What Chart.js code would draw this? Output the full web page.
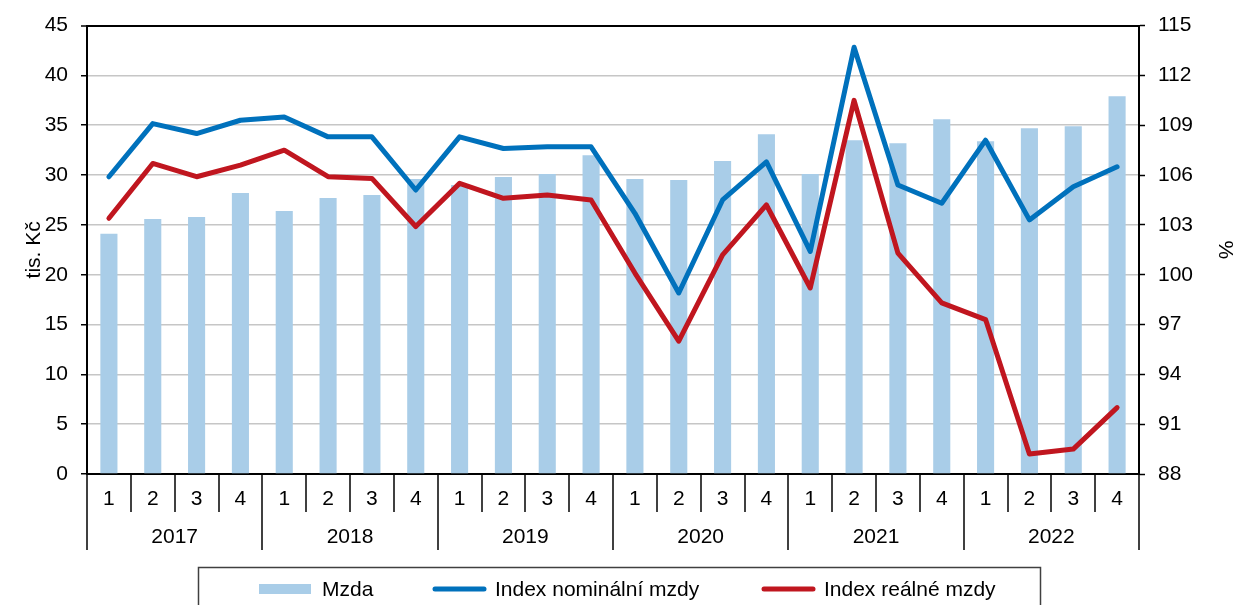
<!DOCTYPE html>
<html>
<head>
<meta charset="utf-8">
<script src="https://cdn.jsdelivr.net/npm/chart.js@4.4.1/dist/chart.umd.min.js"></script>
<style>
  html, body { margin: 0; padding: 0; background: #fff; }
  #obal { width: 1237px; height: 605px; }
</style>
</head>
<body>
<div id="obal"><canvas id="graf" width="1237" height="605"></canvas></div>
<script>
const roky = ["2017", "2018", "2019", "2020", "2021", "2022"];
const ctvrtleti = ["1", "2", "3", "4"];

// prumerna mzda v tis. Kc
const mzda = [24.1, 25.6, 25.8, 28.2, 26.4, 27.7, 28.0, 29.6,
              29.0, 29.8, 30.1, 32.0, 29.6, 29.5, 31.4, 34.1,
              30.1, 33.5, 33.2, 35.6, 33.4, 34.7, 34.9, 37.9];
// indexy v %
const indexNominalni = [105.9, 109.1, 108.5, 109.3, 109.5, 108.3, 108.3, 105.1,
                        108.3, 107.6, 107.7, 107.7, 103.7, 98.9, 104.5, 106.8,
                        101.4, 113.7, 105.4, 104.3, 108.1, 103.3, 105.3, 106.5];
const indexRealne = [103.4, 106.7, 105.9, 106.6, 107.5, 105.9, 105.8, 102.9,
                     105.5, 104.6, 104.8, 104.5, 100.1, 96.0, 101.2, 104.2,
                     99.2, 110.5, 101.3, 98.3, 97.3, 89.2, 89.5, 92.0];

const popisky = [];
roky.forEach(r => ctvrtleti.forEach(q => popisky.push(r + "-" + q)));

const PISMO = '"Liberation Sans", Arial, sans-serif';
const VELIKOST = 21;
Chart.defaults.font.family = PISMO;
Chart.defaults.font.size = VELIKOST;
Chart.defaults.color = "#000";

// dvouradkova osa x (ctvrtleti + roky) a legenda v ramecku
const osaRoky = {
  id: "osaRoky",
  afterDraw(chart) {
    const ctx = chart.ctx;
    const x = chart.scales.x;
    const dole = chart.chartArea.bottom;
    const krok = x.getPixelForValue(1) - x.getPixelForValue(0);

    ctx.save();
    ctx.strokeStyle = "#000";
    ctx.lineWidth = 1.5;
    for (let i = 0; i <= popisky.length; i++) {
      const bx = Math.round(x.getPixelForValue(0) - krok / 2 + i * krok);
      const delka = i % ctvrtleti.length === 0 ? 76 : 38;
      ctx.beginPath();
      ctx.moveTo(bx, dole);
      ctx.lineTo(bx, dole + delka);
      ctx.stroke();
    }

    ctx.fillStyle = "#000";
    ctx.font = VELIKOST + "px " + PISMO;
    ctx.textAlign = "center";
    ctx.textBaseline = "middle";
    popisky.forEach((p, i) => {
      ctx.fillText(ctvrtleti[i % ctvrtleti.length], x.getPixelForValue(i), dole + 25);
    });
    roky.forEach((r, j) => {
      const a = x.getPixelForValue(j * 4);
      const b = x.getPixelForValue(j * 4 + 3);
      ctx.fillText(r, (a + b) / 2, dole + 63);
    });

    // legenda
    ctx.strokeStyle = "#404040";
    ctx.lineWidth = 1.5;
    ctx.strokeRect(198.5, 567.5, 842, 60);

    const starty = [259, 432, 761];
    const stredY = 589;
    ctx.textAlign = "left";
    chart.data.datasets.forEach((ds, i) => {
      const sx = starty[i];
      if (ds.type === "bar") {
        ctx.fillStyle = ds.backgroundColor;
        ctx.fillRect(sx, stredY - 5, 52, 10);
      } else {
        ctx.strokeStyle = ds.borderColor;
        ctx.lineWidth = 5;
        ctx.lineCap = "round";
        ctx.beginPath();
        ctx.moveTo(sx + 3, stredY);
        ctx.lineTo(sx + 52, stredY);
        ctx.stroke();
      }
      ctx.fillStyle = "#000";
      ctx.fillText(ds.label, sx + 63, stredY + 1);
    });
    ctx.restore();
  }
};

new Chart(document.getElementById("graf"), {
  data: {
    labels: popisky,
    datasets: [
      {
        type: "bar",
        label: "Mzda",
        data: mzda,
        yAxisID: "y",
        backgroundColor: "#a9cde8",
        categoryPercentage: 1,
        barPercentage: 0.39,
        order: 3,
      },
      {
        type: "line",
        label: "Index nominální mzdy",
        data: indexNominalni,
        yAxisID: "y1",
        borderColor: "#0071bc",
        borderWidth: 5,
        borderCapStyle: "round",
        borderJoinStyle: "round",
        pointRadius: 0,
        tension: 0,
        order: 2,
      },
      {
        type: "line",
        label: "Index reálné mzdy",
        data: indexRealne,
        yAxisID: "y1",
        borderColor: "#c0161f",
        borderWidth: 5,
        borderCapStyle: "round",
        borderJoinStyle: "round",
        pointRadius: 0,
        tension: 0,
        order: 1,
      },
    ],
  },
  options: {
    responsive: false,
    animation: false,
    layout: { padding: { top: 25, bottom: 0, left: 0, right: 0 } },
    plugins: {
      legend: { display: false },
      title: { display: false },
      tooltip: { enabled: false },
    },
    scales: {
      x: {
        ticks: { display: false },
        grid: { display: false },
        border: { display: true, color: "#000", width: 2 },
        afterFit: (s) => { s.height = 131; },
      },
      y: {
        position: "left",
        min: 0,
        max: 45,
        ticks: { stepSize: 5, padding: 13, color: "#000" },
        grid: {
          color: (c) => (c.tick && c.tick.value === 45 ? "#000" : "#c6c6c6"),
          lineWidth: (c) => (c.tick && c.tick.value === 45 ? 2 : 1.5),
          tickColor: "#000",
          tickLength: 6,
          tickWidth: 1.5,
        },
        border: { color: "#000", width: 2 },
        title: { display: true, text: "tis. Kč", padding: { top: 22, bottom: 0 } },
        afterFit: (s) => { s.width = 87; },
      },
      y1: {
        position: "right",
        min: 88,
        max: 115,
        ticks: { stepSize: 3, padding: 13, color: "#000" },
        grid: {
          drawOnChartArea: false,
          tickColor: "#000",
          tickLength: 6,
          tickWidth: 1.5,
        },
        border: { color: "#000", width: 2 },
        title: { display: true, text: "%", padding: { top: 0, bottom: 0 } },
        afterFit: (s) => { s.width = 98; },
      },
    },
  },
  plugins: [osaRoky],
});
</script>
</body>
</html>
